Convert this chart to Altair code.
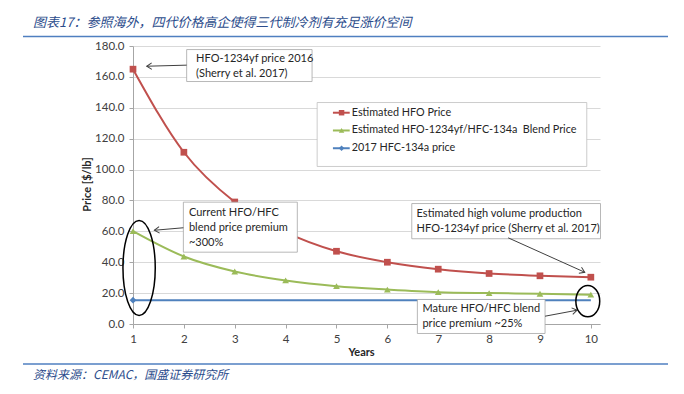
import altair as alt
import pandas as pd

# ---------------- data ----------------
years = [1, 2, 3, 4, 5, 6, 7, 8, 9, 10]
hfo_price = [165.0, 111.2, 79.0, 59.5, 47.1, 40.0, 35.5, 32.7, 31.2, 30.3]
blend_price = [60.1, 43.7, 34.0, 28.2, 24.5, 22.3, 20.6, 20.0, 19.6, 19.0]
hfc_years = [1, 10]
hfc_price = [15.4, 15.4]

series_names = ["Estimated HFO Price",
                "Estimated HFO-1234yf/HFC-134a\u00a0 Blend Price",
                "2017 HFC-134a price"]
series_colors = ["#C0504D", "#9BBB59", "#4F81BD"]
series_shapes = ["square", "triangle-up", "diamond"]

y_ticks = [0, 20, 40, 60, 80, 100, 120, 140, 160, 180]
x_ticks = years

title_text = "图表17：参照海外，四代价格高企使得三代制冷剂有充足涨价空间"
source_text = "资料来源：CEMAC，国盛证券研究所"

# annotation boxes (data coordinates: years / price)
box_x = [2.055, 1.99, 6.48, 6.59]
box_x2 = [4.52, 4.23, 10.19, 9.10]
box_y = [177.7, 78.9, 78.0, 15.9]
box_y2 = [157.0, 46.5, 55.2, -6.15]
box_text_x = [2.24, 2.10, 6.575, 6.69]
box_text_y = [171.9, 72.0, 71.5, 9.8]
box_texts = ["HFO-1234yf price 2016\n(Sherry et al. 2017)",
             "Current HFO/HFC\nblend price premium\n~300%",
             "Estimated high volume production\nHFO-1234yf price (Sherry et al. 2017)",
             "Mature HFO/HFC blend\nprice premium ~25%"]

arrow_x = [2.055, 1.99, 8.375, 9.10]
arrow_y = [167.6, 62.3, 55.8, 5.05]
arrow_x2 = [1.27, 1.42, 9.88, 9.73]
arrow_y2 = [166.9, 60.7, 33.5, 8.94]
arrow_angle = [178.6, 175.3, 24.2, 349.5]

ellipse_x = [1.12, 9.94]
ellipse_y = [36.3, 14.8]

legend_box = [4.62, 9.92, 143.4, 102.0]
legend_row_y = [136.8, 125.3, 113.8]
legend_line_x = [4.93, 5.26]
legend_marker_x = 5.10
legend_text_x = 5.30

# ---------------- tables ----------------
lines_df = pd.concat([
    pd.DataFrame({"x": years, "y": hfo_price, "s": series_names[0]}),
    pd.DataFrame({"x": years, "y": blend_price, "s": series_names[1]}),
    pd.DataFrame({"x": hfc_years, "y": hfc_price, "s": series_names[2]}),
])
points_df = pd.concat([
    pd.DataFrame({"x": years, "y": hfo_price, "s": series_names[0]}),
    pd.DataFrame({"x": years, "y": blend_price, "s": series_names[1]}),
    pd.DataFrame({"x": hfc_years[:1], "y": hfc_price[:1], "s": series_names[2]}),
])
boxes_df = pd.DataFrame({"x": box_x, "x2": box_x2, "y": box_y, "y2": box_y2})
texts_df = pd.DataFrame({"x": box_text_x, "y": box_text_y, "t": box_texts})
arrows_df = pd.DataFrame({"x": arrow_x, "y": arrow_y, "x2": arrow_x2, "y2": arrow_y2,
                          "ang": arrow_angle})
heads_df = pd.DataFrame({"x": arrow_x2, "y": arrow_y2, "ang": arrow_angle})
leg_df = pd.DataFrame({"s": series_names, "y": legend_row_y,
                       "x": [legend_line_x[0]] * 3, "x2": [legend_line_x[1]] * 3,
                       "xm": [legend_marker_x] * 3, "xt": [legend_text_x] * 3})
legbox_df = pd.DataFrame({"x": [legend_box[0]], "x2": [legend_box[1]],
                          "y": [legend_box[2]], "y2": [legend_box[3]]})

# ---------------- encodings ----------------
FONT = "Lato"
xscale = alt.Scale(domain=[1, 10.18], nice=False, zero=False)
yscale = alt.Scale(domain=[0, 180], nice=False)
xaxis = alt.Axis(values=x_ticks, format="d", grid=False, title="Years",
                 titleFont=FONT, titleFontWeight="bold", titleFontSize=11,
                 titleColor="#262626", titleX=228, titleY=28, titleBaseline="middle",
                 labelFont=FONT, labelFontSize=11.5, labelColor="#404040",
                 labelPadding=5, tickSize=4, tickColor="#A6A6A6",
                 domainColor="#A6A6A6", labelFlush=False)
yaxis = alt.Axis(values=y_ticks, format=".1f", grid=True, gridColor="#D9D9D9",
                 title="Price [$/lb]", titleFont=FONT, titleFontWeight="bold",
                 titleFontSize=11, titleColor="#262626", titleAngle=270,
                 titleX=-46, titleY=138, titleAlign="center", titleBaseline="middle",
                 labelFont=FONT, labelFontSize=11.5, labelColor="#404040",
                 labelPadding=5, tickSize=4, tickColor="#A6A6A6",
                 domainColor="#A6A6A6")


def X(f="x"):
    return alt.X(f, type="quantitative", scale=xscale, axis=xaxis)


def Y(f="y"):
    return alt.Y(f, type="quantitative", scale=yscale, axis=yaxis)


color = alt.Color("s:N", scale=alt.Scale(domain=series_names, range=series_colors), legend=None)
shape = alt.Shape("s:N", scale=alt.Scale(domain=series_names, range=series_shapes), legend=None)

lines = alt.Chart(lines_df).mark_line(interpolate="monotone", strokeWidth=2).encode(
    x=X(), y=Y(), color=color, detail="s:N")
points = alt.Chart(points_df).mark_point(filled=True, size=45, opacity=1).encode(
    x=X(), y=Y(), color=color, shape=shape)

boxes = alt.Chart(boxes_df).mark_rect(fill="white", stroke="#A6A6A6", strokeWidth=0.8).encode(
    x=X(), x2="x2", y=Y(), y2="y2")
texts = alt.Chart(texts_df).mark_text(align="left", baseline="middle", lineBreak="\n",
                                      lineHeight=15, font=FONT, fontSize=11,
                                      color="#262626").encode(x=X(), y=Y(), text="t:N")
arrows = alt.Chart(arrows_df).mark_rule(color="#404040", strokeWidth=1).encode(
    x=X(), y=Y(), x2="x2", y2="y2")
heads = alt.Chart(heads_df).mark_point(shape="M -1 -0.65 L 0 0 L -1 0.65", filled=False,
                                        size=100, color="#404040", strokeWidth=1,
                                        opacity=1).encode(
    x=X(), y=Y(), angle=alt.Angle("ang:Q", scale=None))

k = 0.5523


def ellipse_path(a):
    return (f"M 0 -1 C {k*a:.4f} -1 {a:.4f} -{k:.4f} {a:.4f} 0 "
            f"C {a:.4f} {k:.4f} {k*a:.4f} 1 0 1 "
            f"C -{k*a:.4f} 1 -{a:.4f} {k:.4f} -{a:.4f} 0 "
            f"C -{a:.4f} -{k:.4f} -{k*a:.4f} -1 0 -1 Z")


ell1 = alt.Chart(pd.DataFrame({"x": ellipse_x[:1], "y": ellipse_y[:1]})).mark_point(
    shape=ellipse_path(0.34), filled=False, size=(2 * 47.5) ** 2, color="black",
    strokeWidth=1.5, opacity=1).encode(x=X(), y=Y())
ell2 = alt.Chart(pd.DataFrame({"x": ellipse_x[1:], "y": ellipse_y[1:]})).mark_point(
    shape=ellipse_path(0.76), filled=False, size=(2 * 15.7) ** 2, color="black",
    strokeWidth=1.5, opacity=1).encode(x=X(), y=Y())

legbox = alt.Chart(legbox_df).mark_rect(fill="white", stroke="#BFBFBF", strokeWidth=0.8).encode(
    x=X(), x2="x2", y=Y(), y2="y2")
legline = alt.Chart(leg_df).mark_rule(strokeWidth=2).encode(
    x=X(), x2="x2", y=Y(), color=color)
legpt = alt.Chart(leg_df).mark_point(filled=True, size=30, opacity=1).encode(
    x=X("xm"), y=Y(), color=color, shape=shape)
legtext = alt.Chart(leg_df).mark_text(align="left", baseline="middle", font=FONT,
                                      fontSize=10.8, color="#262626").encode(
    x=X("xt"), y=Y(), text="s:N")

one = alt.Data(values=[{}])
title = alt.Chart(one).mark_text(align="left", baseline="middle", font="Noto Sans CJK SC",
                                 fontSize=13, fontStyle="italic", color="#2B4C8C").encode(
    x=alt.value(-100), y=alt.value(-23), text=alt.value(title_text))
source = alt.Chart(one).mark_text(align="left", baseline="middle", font="Noto Sans CJK SC",
                                  fontSize=12, fontStyle="italic", color="#2B4C8C").encode(
    x=alt.value(-100), y=alt.value(329), text=alt.value(source_text))
hline = alt.Chart(one).mark_rule(color="#4F7FC0", strokeWidth=1.5).encode(
    x=alt.value(-110), x2=alt.value(535), y=alt.value(-9.5))
fline = alt.Chart(one).mark_rule(color="#4F7FC0", strokeWidth=1.5).encode(
    x=alt.value(-110), x2=alt.value(535), y=alt.value(318))

chart = alt.layer(
    lines, points, boxes, texts, arrows, heads, ell1, ell2,
    legbox, legline, legpt, legtext, title, source, hline, fline
).properties(
    width=467, height=278,
    autosize=alt.AutoSizeParams(type="none"),
    padding={"left": 125, "top": 38, "right": 70, "bottom": 60},
).configure_view(stroke=None)

chart.save("out.html", embed_options={"renderer": "svg", "actions": False})
